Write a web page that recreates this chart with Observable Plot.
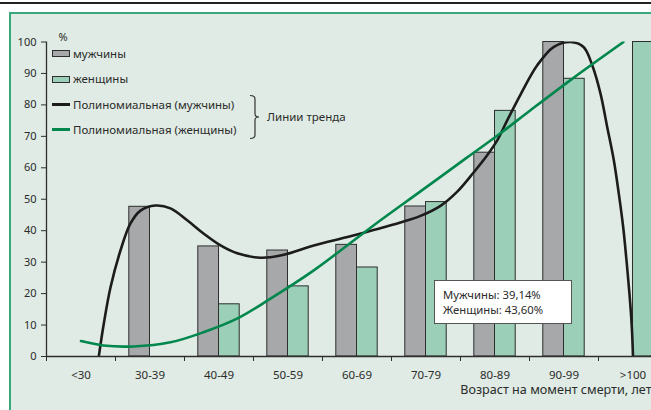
<!DOCTYPE html>
<html>
<head>
<meta charset="utf-8">
<script src="https://cdn.jsdelivr.net/npm/d3@7"></script>
<script src="https://cdn.jsdelivr.net/npm/@observablehq/plot@0.6"></script>
<style>
  html, body { margin: 0; padding: 0; background: #fff; overflow: hidden; }
  #wrap { position: relative; width: 651px; height: 410px; overflow: hidden;
          font-family: "Noto Sans", sans-serif; color: #2b2b2b; }
  #topline { position: absolute; left: 0; top: 2px; width: 651px; height: 2px; background: #222; }
  #panel { position: absolute; left: 9px; top: 12px; width: 700px; height: 450px;
           background: #dfebe4; border-left: 2px solid #3aa87a; border-top: 2px solid #3aa87a; }
  #chart { position: absolute; left: 0; top: 0; }
  .lg { position: absolute; font-size: 11.5px; line-height: 14px; white-space: nowrap; }
  .sw { position: absolute; box-sizing: border-box; }
  #note { position: absolute; left: 434px; top: 280px; width: 138px; height: 44px; box-sizing: border-box;
          background: #fff; border: 1px solid #555; font-size: 11.3px; line-height: 15px; padding: 6px 0 0 8px; }
</style>
</head>
<body>
<div id="wrap">
  <div id="topline"></div>
  <div id="panel"></div>
  <div id="chart"></div>
  <div id="legend"></div>
  <div id="note"></div>
</div>
<script>
// Age groups at death
const categories = ["<30", "30-39", "40-49", "50-59", "60-69", "70-79", "80-89", "90-99", ">100"];
// Share of deaths, %
const men   = [0, 47.6, 35.0, 33.7, 35.5, 47.7, 64.8, 100, 0];
const women = [0, 0, 16.6, 22.3, 28.3, 49.1, 78.1, 88.3, 100];
const yTicks = [0, 10, 20, 30, 40, 50, 60, 70, 80, 90, 100];

// Polynomial trend lines (position 1 = first age group)
const menTrendX = [1.258, 1.330, 1.428, 1.572, 1.717, 1.862, 2.080, 2.297, 2.539, 2.775, 3.022, 3.264, 3.601, 3.891,
                   4.374, 4.862, 5.239, 5.630, 5.920, 6.210, 6.457, 6.693, 6.887, 7.032, 7.177, 7.370, 7.612,
                   7.848, 8.094, 8.283, 8.409, 8.529, 8.626, 8.722, 8.794, 8.858, 8.906, 8.949, 8.983, 9.0];
const menTrendY = [0, 10.4, 22.0, 33.7, 42.3, 46.4, 48.0, 47.1, 43.3, 39.1, 35.3, 32.8, 31.4, 32.1,
                   35.3, 38.0, 40.2, 42.6, 44.7, 47.9, 52.5, 58.6, 64.0, 68.7, 75.1, 83.3, 92.6,
                   98.4, 100, 98.4, 92.6, 83.6, 73.0, 62.4, 51.8, 41.1, 30.5, 19.9, 9.3, 0];
const womenTrendX = [1.0, 1.326, 1.761, 2.297, 2.775, 3.268, 3.746, 4.374, 4.858, 5.341, 5.920, 6.597,
                     7.080, 7.514, 8.138, 8.862];
const womenTrendY = [4.9, 3.5, 3.2, 4.5, 7.7, 12.1, 18.4, 27.4, 35.3, 43.3, 52.5, 63.3,
                     71.0, 78.3, 88.6, 100];

const legendItems = [
  {label: "мужчины", kind: "box", color: "#a7a8aa"},
  {label: "женщины", kind: "box", color: "#9bcfb8"},
  {label: "Полиномиальная (мужчины)", kind: "line", color: "#1c1c1c"},
  {label: "Полиномиальная (женщины)", kind: "line", color: "#00874d"}
];
const trendGroupLabel = "Линии тренда";
const noteLines = ["Мужчины: 39,14%", "Женщины: 43,60%"];
const xTitle = "Возраст на момент смерти, лет";

const barWidth = 0.3;
const bars = [];
categories.forEach((c, i) => {
  if (men[i] > 0) bars.push({pos: i + 1, value: men[i], sex: "м", x1: i + 1 - barWidth, x2: i + 1});
  if (women[i] > 0) bars.push({pos: i + 1, value: women[i], sex: "ж", x1: i + 1, x2: i + 1 + barWidth});
});
const menTrend = menTrendX.map((x, i) => ({x, y: menTrendY[i]}));
const womenTrend = womenTrendX.map((x, i) => ({x, y: womenTrendY[i]}));
const positions = categories.map((c, i) => i + 1);
const boundaries = d3.range(0.5, categories.length + 0.5, 1);

const chart = Plot.plot({
  width: 651,
  height: 410,
  marginLeft: 46,
  marginRight: 0,
  marginTop: 41.5,
  marginBottom: 54,
  style: {background: "transparent", fontFamily: "Noto Sans, sans-serif", fontSize: "11px", color: "#2b2b2b"},
  x: {domain: [0.5, 9.5], range: [46, 667]},
  y: {domain: [0, 100]},
  marks: [
    Plot.rectY(bars, {x1: "x1", x2: "x2", y: "value",
      fill: d => d.sex === "м" ? "#a7a8aa" : "#9bcfb8", stroke: "#2e2e2e", strokeWidth: 1}),
    Plot.line(menTrend, {x: "x", y: "y", curve: "catmull-rom", stroke: "#1c1c1c", strokeWidth: 2.6, clip: true}),
    Plot.line(womenTrend, {x: "x", y: "y", curve: "catmull-rom", stroke: "#00874d", strokeWidth: 2.6, clip: true}),
    Plot.ruleY([0], {stroke: "#2e2e2e", strokeWidth: 1.3}),
    Plot.ruleX([0.5], {y1: 0, y2: 100, stroke: "#2e2e2e", strokeWidth: 1.3}),
    Plot.axisY({ticks: yTicks, tickSize: 5, tickPadding: 5, label: null, stroke: "#2e2e2e", fontSize: 11}),
    Plot.axisX({ticks: boundaries, tickSize: 5, tickFormat: () => "", label: null, stroke: "#2e2e2e"}),
    Plot.axisX({ticks: positions, tickSize: 0, tickPadding: 14, tickFormat: d => categories[d - 1], label: null, fontSize: 11.5}),
    Plot.text([xTitle], {frameAnchor: "bottom-right", dy: 37, textAnchor: "end", fontSize: 12.6}),
    Plot.text(["%"], {frameAnchor: "top-left", dx: 12, dy: -9, textAnchor: "start", fontSize: 11})
  ]
});
document.getElementById("chart").appendChild(chart);

// Legend overlay
const legend = document.getElementById("legend");
const rowCenters = [53.5, 79, 104.5, 129.5];
legendItems.forEach((item, i) => {
  const sw = document.createElement("div");
  sw.className = "sw";
  if (item.kind === "box") {
    Object.assign(sw.style, {left: "52px", top: (rowCenters[i] - 3.5) + "px", width: "18px", height: "7px",
      background: item.color, border: "1px solid #2e2e2e"});
  } else {
    Object.assign(sw.style, {left: "52px", top: (rowCenters[i] - 1.5) + "px", width: "18px", height: "3px",
      background: item.color});
  }
  legend.appendChild(sw);
  const t = document.createElement("div");
  t.className = "lg";
  t.textContent = item.label;
  Object.assign(t.style, {left: "73px", top: (rowCenters[i] - 7) + "px"});
  legend.appendChild(t);
});
// Brace grouping the two trend lines
const ns = "http://www.w3.org/2000/svg";
const brace = document.createElementNS(ns, "svg");
brace.setAttribute("width", "20");
brace.setAttribute("height", "50");
Object.assign(brace.style, {position: "absolute", left: "246px", top: "93px"});
const path = document.createElementNS(ns, "path");
path.setAttribute("d", "M4,2.5 Q9,2.5 9,6 L9,21 Q9,24 13,24 Q9,24 9,27 L9,42 Q9,45.5 4,45.5");
path.setAttribute("fill", "none");
path.setAttribute("stroke", "#333");
path.setAttribute("stroke-width", "1.2");
brace.appendChild(path);
legend.appendChild(brace);
const g = document.createElement("div");
g.className = "lg";
g.textContent = trendGroupLabel;
Object.assign(g.style, {left: "267px", top: "110px"});
legend.appendChild(g);

// Summary box
document.getElementById("note").innerHTML = noteLines.map(s => `<div>${s}</div>`).join("");
</script>
</body>
</html>
